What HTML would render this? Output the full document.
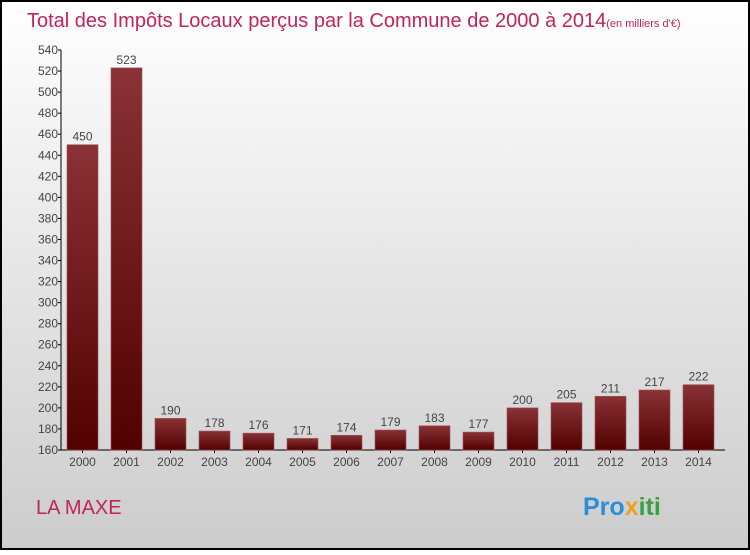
<!DOCTYPE html>
<html><head><meta charset="utf-8"><style>
body{margin:0}
svg text{font-family:"Liberation Sans",sans-serif}
</style></head><body>
<svg width="750" height="550" xmlns="http://www.w3.org/2000/svg">
<defs>
<linearGradient id="bg" x1="0" y1="0" x2="0" y2="1"><stop offset="0" stop-color="#ffffff"/><stop offset="1" stop-color="#cccccc"/></linearGradient>
<linearGradient id="bar" x1="0" y1="0" x2="0" y2="1"><stop offset="0" stop-color="#8a3236"/><stop offset="1" stop-color="#520000"/></linearGradient>
</defs>
<rect x="1" y="1" width="748" height="548" fill="url(#bg)" stroke="#000" stroke-width="2"/>
<text x="27" y="27" font-size="20" fill="#c0245a">Total des Impôts Locaux perçus par la Commune de 2000 à 2014<tspan font-size="11">(en milliers d'€)</tspan></text>
<text x="36" y="514" font-size="20" fill="#c0245a">LA MAXE</text>
<text x="583" y="515" font-size="25" font-weight="bold"><tspan fill="#2a8fd6">Pro</tspan><tspan fill="#f0a020">x</tspan><tspan fill="#3aa040">iti</tspan></text>
<g id="axes"></g>
<g id="bars"></g>
</svg>
<script>
const categories=["2000","2001","2002","2003","2004","2005","2006","2007","2008","2009","2010","2011","2012","2013","2014"];
const values=[450,523,190,178,176,171,174,179,183,177,200,205,211,217,222];
const yTicks=[160,180,200,220,240,260,280,300,320,340,360,380,400,420,440,460,480,500,520,540];
const NS="http://www.w3.org/2000/svg";
const yMin=160,yMax=540,plotTop=50,plotBottom=450,plotLeft=61;
function yScale(v){return plotBottom-(v-yMin)/(yMax-yMin)*(plotBottom-plotTop);}
function xScale(i){return 67+i*44;}
function mk(t,a,p){const e=document.createElementNS(NS,t);for(const k in a)e.setAttribute(k,a[k]);p.appendChild(e);return e;}
const ax=document.getElementById('axes'),bg=document.getElementById('bars');
const yl=mk('line',{x1:plotLeft,y1:plotTop,x2:plotLeft,y2:plotBottom,stroke:'#000'},ax);


const xl=mk('line',{x1:plotLeft,y1:plotBottom,x2:725,y2:plotBottom,stroke:'#000'},ax);


yTicks.forEach(v=>{
 mk('line',{x1:plotLeft-3,y1:yScale(v),x2:plotLeft,y2:yScale(v),stroke:'#000'},ax);
 const t=mk('text',{x:plotLeft-3,y:yScale(v)+4,'font-size':12,'text-anchor':'end',fill:'#444'},ax);
 t.textContent=v;
 
 
});
categories.forEach((c,i)=>{
 const r=mk('rect',{x:xScale(i),y:yScale(values[i]),width:31,height:plotBottom-yScale(values[i]),fill:'url(#bar)',stroke:'#a05058','stroke-width':0.6},bg);
 
 
 const v=mk('text',{x:xScale(i)+15.5,y:yScale(values[i])-4,'font-size':12,'text-anchor':'middle',fill:'#444'},bg);
 v.textContent=values[i];
 
 
 mk('line',{x1:xScale(i)+15.5,y1:plotBottom,x2:xScale(i)+15.5,y2:plotBottom+3,stroke:'#000'},ax);
 const t=mk('text',{x:xScale(i)+15.5,y:plotBottom+16,'font-size':12,'text-anchor':'middle',fill:'#444'},ax);
 t.textContent=c;
 
 
});
</script>
</body></html>
